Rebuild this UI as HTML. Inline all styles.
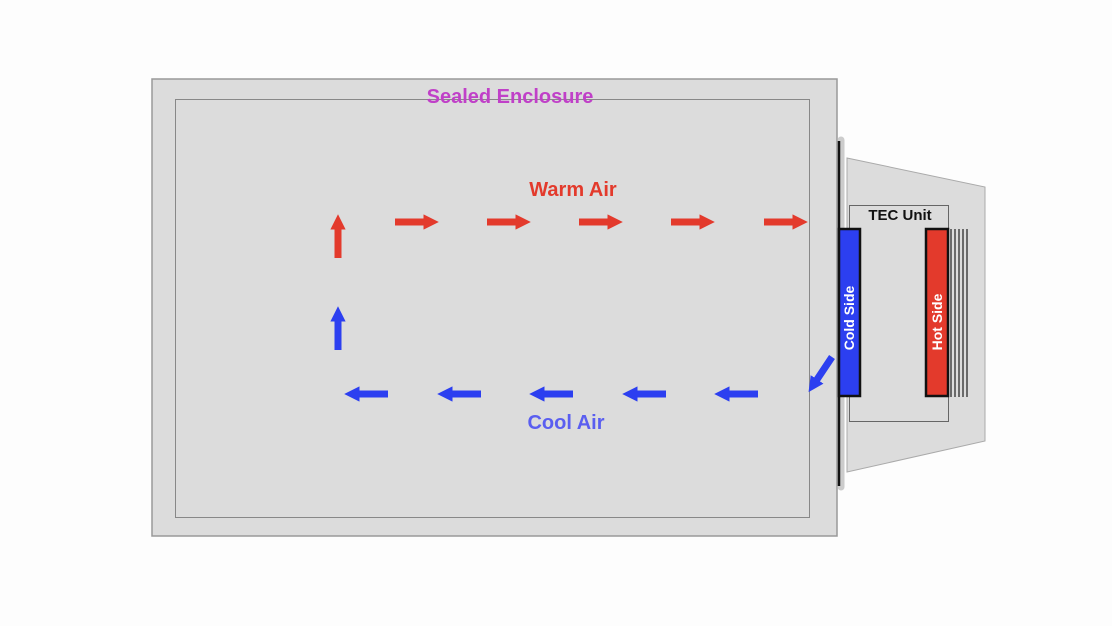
<!DOCTYPE html>
<html><head><style>body{margin:0;background:#fdfdfd}svg{display:block}</style></head><body>
<svg width="1112" height="626" xmlns="http://www.w3.org/2000/svg" font-family="Liberation Sans, sans-serif">
<defs>
<marker id="r" markerWidth="2.2" markerHeight="2.2" refX="0.8" refY="1.1" orient="auto" markerUnits="strokeWidth"><path d="M0,0L2.2,1.1L0,2.2z" fill="#e33a2c"/></marker>
<marker id="b" markerWidth="2.2" markerHeight="2.2" refX="0.8" refY="1.1" orient="auto" markerUnits="strokeWidth"><path d="M0,0L2.2,1.1L0,2.2z" fill="#2c3ff0"/></marker>
</defs>
<rect x="152" y="79" width="685" height="457" fill="#dcdcdc" stroke="#999" stroke-width="1.5"/>
<rect x="175.5" y="99.5" width="634" height="418" fill="none" stroke="#888" stroke-width="1"/>
<text x="510" y="103" text-anchor="middle" font-size="20" font-weight="bold" fill="#c040c8">Sealed Enclosure</text>
<polygon points="847,158 985,187 985,441 847,472" fill="#dcdcdc" stroke="#aaa"/>
<line x1="841" y1="140" x2="841" y2="487" stroke="#ccc" stroke-width="7" stroke-linecap="round"/>
<line x1="839" y1="141" x2="839" y2="486" stroke="#111" stroke-width="2.5"/>
<rect x="849.5" y="205.5" width="99" height="216" fill="none" stroke="#666"/>
<text x="900" y="220" text-anchor="middle" font-size="15" font-weight="bold" fill="#111">TEC Unit</text>
<g stroke="#444" stroke-width="1.5"><line x1="951" y1="229" x2="951" y2="397"/><line x1="955" y1="229" x2="955" y2="397"/><line x1="959" y1="229" x2="959" y2="397"/><line x1="963" y1="229" x2="963" y2="397"/><line x1="967" y1="229" x2="967" y2="397"/></g>
<rect x="839" y="229" width="21" height="167" fill="#2c3ff0" stroke="#111" stroke-width="2.5"/>
<rect x="926" y="229" width="22" height="167" fill="#e33a2c" stroke="#111" stroke-width="2.5"/>
<text transform="translate(854,318) rotate(-90)" text-anchor="middle" font-size="14" font-weight="bold" fill="#fff">Cold Side</text>
<text transform="translate(942,322) rotate(-90)" text-anchor="middle" font-size="14" font-weight="bold" fill="#fff">Hot Side</text>
<text x="573" y="196" text-anchor="middle" font-size="20" font-weight="bold" fill="#e33a2c">Warm Air</text>
<text x="566" y="429" text-anchor="middle" font-size="20" font-weight="bold" fill="#5a5ef0">Cool Air</text>
<g stroke="#e33a2c" stroke-width="7" marker-end="url(#r)">
<line x1="395" y1="222" x2="429" y2="222"/><line x1="487" y1="222" x2="521" y2="222"/><line x1="579" y1="222" x2="613" y2="222"/><line x1="671" y1="222" x2="705" y2="222"/><line x1="764" y1="222" x2="798" y2="222"/>
<line x1="338" y1="258" x2="338" y2="224"/>
</g>
<g stroke="#2c3ff0" stroke-width="7" marker-end="url(#b)">
<line x1="388" y1="394" x2="354" y2="394"/><line x1="481" y1="394" x2="447" y2="394"/><line x1="573" y1="394" x2="539" y2="394"/><line x1="666" y1="394" x2="632" y2="394"/><line x1="758" y1="394" x2="724" y2="394"/>
<line x1="338" y1="350" x2="338" y2="316"/>
<line x1="832" y1="357" x2="814" y2="384"/>
</g>
</svg>
</body></html>
